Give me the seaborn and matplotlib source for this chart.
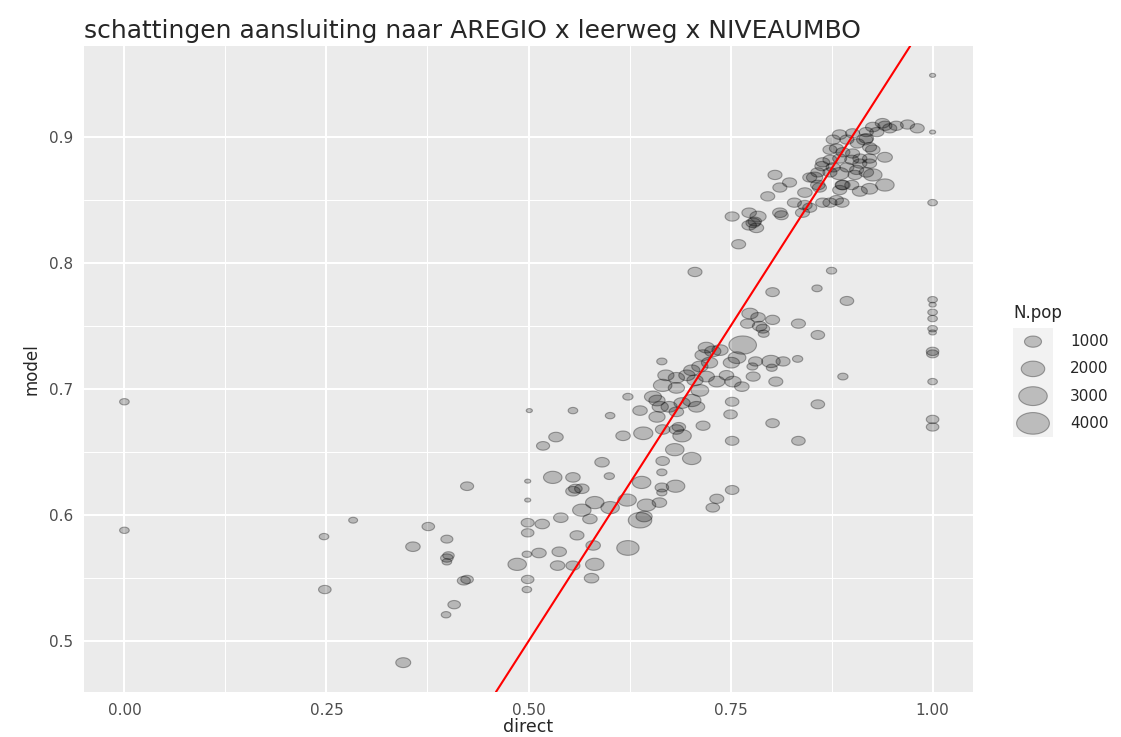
import numpy as np
import pandas as pd
import matplotlib
matplotlib.use("Agg")
import matplotlib.pyplot as plt
import seaborn as sns
from matplotlib.path import Path

# estimated values
direct = [
    0.000, 0.000, 0.247, 0.248, 0.283, 0.345, 0.376, 0.357, 0.399, 0.399,
    0.401, 0.399, 0.408, 0.398, 0.420, 0.424, 0.424, 0.499, 0.499, 0.501,
    0.499, 0.499, 0.498, 0.499, 0.498, 0.486, 0.513, 0.517, 0.530, 0.540,
    0.538, 0.536, 0.534, 0.518, 0.555, 0.555, 0.558, 0.566, 0.555, 0.560,
    0.555, 0.566, 0.582, 0.576, 0.580, 0.578, 0.582, 0.591, 0.600, 0.601,
    0.601, 0.617, 0.622, 0.623, 0.623, 0.638, 0.640, 0.642, 0.638, 0.643,
    0.646, 0.662, 0.665, 0.665, 0.665, 0.666, 0.666, 0.683, 0.686, 0.690,
    0.681, 0.682, 0.702, 0.716, 0.733, 0.728, 0.752, 0.752, 0.659, 0.683,
    0.654, 0.659, 0.663, 0.674, 0.690, 0.702, 0.708, 0.712, 0.666, 0.683,
    0.670, 0.683, 0.696, 0.706, 0.702, 0.720, 0.733, 0.745, 0.753, 0.764,
    0.778, 0.806, 0.752, 0.750, 0.802, 0.834, 0.665, 0.712, 0.724, 0.716,
    0.720, 0.728, 0.737, 0.751, 0.758, 0.765, 0.781, 0.800, 0.815, 0.833,
    0.777, 0.801, 0.774, 0.784, 0.802, 0.771, 0.786, 0.790, 0.791, 0.834,
    0.858, 0.894, 0.889, 0.858, 0.857, 0.875, 0.802, 0.706,
    1.000, 1.000, 1.000, 1.000, 1.000, 1.000, 1.000, 1.000, 1.000, 1.000,
    1.000, 1.000, 1.000, 1.000,
    0.760, 0.752, 0.773, 0.784, 0.778, 0.780, 0.782, 0.773, 0.811, 0.813,
    0.796, 0.805, 0.811, 0.823, 0.829, 0.842, 0.839, 0.848, 0.864, 0.881,
    0.888, 0.873, 0.842, 0.858, 0.860, 0.854, 0.889, 0.848, 0.858, 0.863,
    0.873, 0.885, 0.864, 0.873, 0.877, 0.894, 0.906, 0.904, 0.918, 0.926,
    0.941, 0.922, 0.910, 0.900, 0.888, 0.885, 0.910, 0.922, 0.885, 0.900,
    0.910, 0.922, 0.941, 0.926, 0.873, 0.881, 0.889, 0.901, 0.907, 0.916,
    0.918, 0.922, 0.877, 0.894, 0.885, 0.901, 0.918, 0.931, 0.926, 0.938,
    0.941, 0.947, 0.955, 0.969, 0.981,
]
model = [
    0.690, 0.588, 0.583, 0.541, 0.596, 0.483, 0.591, 0.575, 0.581, 0.566,
    0.568, 0.563, 0.529, 0.521, 0.548, 0.549, 0.623, 0.627, 0.612, 0.683,
    0.594, 0.586, 0.569, 0.549, 0.541, 0.561, 0.570, 0.593, 0.630, 0.598,
    0.571, 0.560, 0.662, 0.655, 0.630, 0.619, 0.621, 0.621, 0.683, 0.584,
    0.560, 0.604, 0.610, 0.597, 0.576, 0.550, 0.561, 0.642, 0.631, 0.606,
    0.679, 0.663, 0.612, 0.574, 0.694, 0.683, 0.626, 0.665, 0.596, 0.599,
    0.608, 0.610, 0.618, 0.622, 0.634, 0.643, 0.668, 0.668, 0.670, 0.663,
    0.652, 0.623, 0.645, 0.671, 0.613, 0.606, 0.620, 0.659, 0.678, 0.682,
    0.694, 0.691, 0.686, 0.686, 0.689, 0.691, 0.686, 0.699, 0.703, 0.701,
    0.711, 0.709, 0.711, 0.707, 0.715, 0.710, 0.706, 0.711, 0.706, 0.702,
    0.710, 0.706, 0.690, 0.680, 0.673, 0.659, 0.722, 0.718, 0.721, 0.727,
    0.733, 0.730, 0.731, 0.721, 0.725, 0.735, 0.722, 0.722, 0.722, 0.724,
    0.718, 0.717, 0.760, 0.757, 0.755, 0.752, 0.750, 0.748, 0.744, 0.752,
    0.743, 0.770, 0.710, 0.688, 0.780, 0.794, 0.777, 0.793,
    0.949, 0.904, 0.848, 0.771, 0.767, 0.761, 0.756, 0.748, 0.745, 0.730,
    0.728, 0.706, 0.676, 0.670,
    0.815, 0.837, 0.840, 0.837, 0.832, 0.833, 0.828, 0.830, 0.840, 0.838,
    0.853, 0.870, 0.860, 0.864, 0.848, 0.846, 0.840, 0.844, 0.848, 0.850,
    0.848, 0.848, 0.856, 0.862, 0.860, 0.868, 0.862, 0.868, 0.872, 0.877,
    0.872, 0.871, 0.880, 0.882, 0.876, 0.876, 0.874, 0.870, 0.872, 0.870,
    0.862, 0.859, 0.857, 0.862, 0.862, 0.858, 0.879, 0.879, 0.883, 0.882,
    0.883, 0.883, 0.884, 0.890, 0.890, 0.891, 0.888, 0.887, 0.895, 0.898,
    0.899, 0.892, 0.898, 0.898, 0.902, 0.903, 0.904, 0.904, 0.908, 0.911,
    0.909, 0.907, 0.909, 0.910, 0.907,
]
n_pop = [
    250, 250, 250, 500, 200, 750, 500, 700, 450, 500,
    400, 250, 500, 250, 550, 500, 550, 40, 40, 40,
    550, 500, 250, 500, 250, 1200, 700, 700, 1200, 700,
    700, 700, 700, 550, 700, 700, 600, 700, 250, 650,
    650, 1200, 1200, 700, 700, 700, 1200, 700, 300, 1200,
    250, 700, 1200, 1800, 300, 700, 1200, 1300, 2000, 900,
    1200, 700, 300, 600, 300, 600, 700, 700, 600, 1200,
    1200, 1200, 1200, 650, 650, 600, 600, 600, 900, 700,
    1000, 900, 900, 900, 900, 1200, 900, 1100, 1200, 900,
    900, 900, 900, 900, 900, 900, 900, 700, 900, 700,
    650, 650, 600, 600, 600, 600, 300, 900, 900, 900,
    900, 900, 900, 900, 1100, 2800, 650, 1200, 650, 300,
    350, 350, 900, 700, 650, 650, 700, 600, 350, 650,
    600, 600, 300, 600, 300, 300, 600, 650,
    40, 40, 250, 250, 100, 250, 250, 250, 120, 500,
    450, 250, 500, 500,
    650, 650, 700, 900, 700, 600, 700, 700, 700, 600,
    650, 650, 650, 650, 650, 700, 650, 650, 650, 650,
    650, 650, 700, 700, 650, 900, 700, 650, 650, 650,
    650, 1200, 650, 650, 650, 650, 650, 650, 700, 1200,
    1200, 900, 750, 650, 650, 650, 650, 650, 650, 650,
    650, 650, 750, 700, 650, 650, 650, 650, 650, 900,
    700, 650, 650, 650, 700, 650, 650, 650, 700, 700,
    650, 650, 650, 650, 650,
]
legend_values = [1000, 2000, 3000, 4000]
legend_labels = ["1000", "2000", "3000", "4000"]

df = pd.DataFrame({"direct": direct, "model": model, "N.pop": n_pop})

sns.set_style("white")
plt.rcParams["font.family"] = ["DejaVu Sans"]

W, H = 1121, 737
fig = plt.figure(figsize=(W / 100, H / 100), dpi=100)
ax = fig.add_axes([84 / W, 1 - 692 / H, (973 - 84) / W, (692 - 46) / H])
ax.set_facecolor("#EBEBEB")

# wide ellipse marker (reference is stretched horizontally)
t = np.linspace(0, 2 * np.pi, 60)
ellipse = Path(np.column_stack([np.cos(t), 0.66 * np.sin(t)]), closed=True)

size_range = (14, 600)
size_norm = (0, 4300)

sns.scatterplot(data=df, x="direct", y="model", size="N.pop", sizes=size_range,
                size_norm=size_norm, marker=ellipse, color=(0, 0, 0, 0.22),
                edgecolor=(0, 0, 0, 0.33), linewidth=0.8, legend=False, ax=ax, zorder=3)
ax.axline((0, 0), slope=1, color="red", lw=1.5, zorder=4)

xmin, xmax = min(direct), max(direct)
ymin, ymax = min(model), max(model)
ax.set_xlim(xmin - 0.05 * (xmax - xmin), xmax + 0.05 * (xmax - xmin))
ax.set_ylim(ymin - 0.05 * (ymax - ymin), ymax + 0.05 * (ymax - ymin))

ax.set_xticks([0, 0.25, 0.5, 0.75, 1.0])
ax.set_xticklabels(["0.00", "0.25", "0.50", "0.75", "1.00"])
ax.set_yticks([0.5, 0.6, 0.7, 0.8, 0.9])
ax.set_yticklabels(["0.5", "0.6", "0.7", "0.8", "0.9"])
ax.set_xticks([0.125, 0.375, 0.625, 0.875], minor=True)
ax.set_yticks([0.55, 0.65, 0.75, 0.85], minor=True)
ax.grid(which="major", color="white", lw=1.5, zorder=0)
ax.grid(which="minor", color="white", lw=0.75, zorder=0)
ax.set_axisbelow(True)
for s in ax.spines.values():
    s.set_visible(False)
ax.tick_params(which="major", length=4, width=1, color="#333333",
               labelcolor="#4D4D4D", labelsize=11, pad=4)
ax.tick_params(which="minor", length=0)
ax.set_xlabel("direct", fontsize=12.5, labelpad=0)
ax.set_ylabel("model", fontsize=12, labelpad=6)
ax.set_title("schattingen aansluiting naar AREGIO x leerweg x NIVEAUMBO",
             loc="left", fontsize=18, pad=6)

# legend drawn as its own small panel
lax = fig.add_axes([1013 / W, 1 - 437 / H, 40 / W, 109 / H])
lax.set_facecolor("#F2F2F2")
leg = pd.DataFrame({"x": [0] * 4, "y": range(4), "N.pop": legend_values})
sns.scatterplot(data=leg, x="x", y="y", size="N.pop", sizes=size_range,
                size_norm=size_norm, marker=ellipse, color=(0, 0, 0, 0.22),
                edgecolor=(0, 0, 0, 0.33), linewidth=0.8, legend=False, ax=lax)
lax.set_xlim(-1, 1)
lax.set_ylim(3.5, -0.5)
lax.set_xticks([])
lax.set_yticks([])
lax.set_xlabel("")
lax.set_ylabel("")
for s in lax.spines.values():
    s.set_visible(False)
for i, lab in enumerate(legend_labels):
    lax.text(1.85, i, lab, fontsize=11, va="center", ha="left", clip_on=False)
fig.text(1013 / W, 1 - 313 / H, "N.pop", fontsize=12, va="center", ha="left")

fig.savefig("out.png", dpi=100)
